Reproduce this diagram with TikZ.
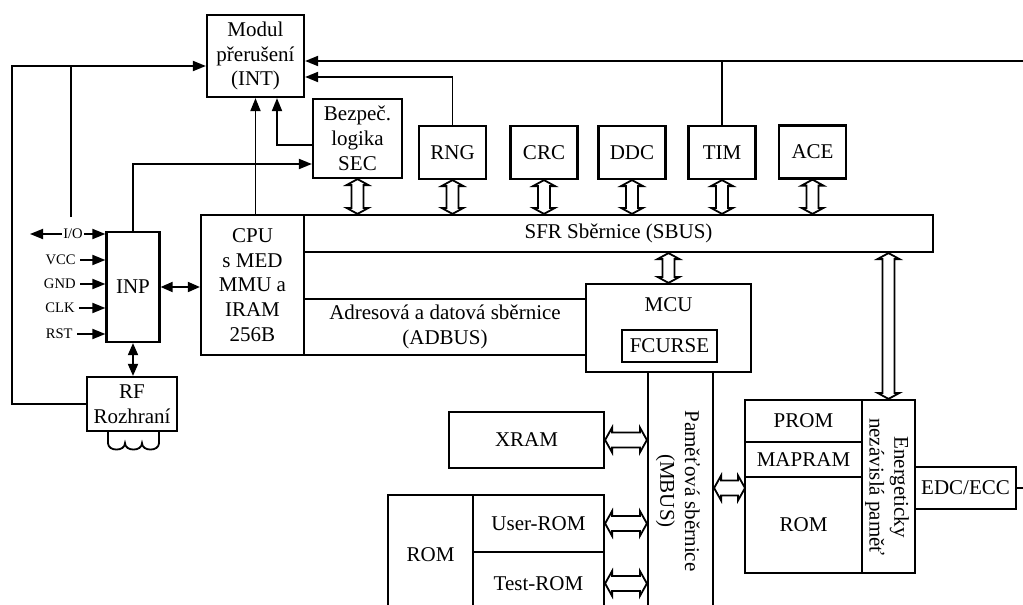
\documentclass[tikz,border=0pt]{standalone}
\usepackage{fontspec}
\setmainfont{Liberation Serif}
\usetikzlibrary{arrows.meta,calc}
\newcommand{\vdbl}[2]{\draw[dbl] let \p1=(#1), \p2=(#2) in
 (\x1,\y1) -- (\x1-5.5pt,\y1-3pt) -- (\x1-3pt,\y1-3pt) -- (\x1-3pt,\y2+3pt) -- (\x1-5.5pt,\y2+3pt) -- (\x1,\y2)
 -- (\x1+5.5pt,\y2+3pt) -- (\x1+3pt,\y2+3pt) -- (\x1+3pt,\y1-3pt) -- (\x1+5.5pt,\y1-3pt) -- cycle;}
\newcommand{\hdbl}[2]{\draw[dbl] let \p1=(#1), \p2=(#2) in
 (\x1,\y1) -- (\x1+3.5pt,\y1+6.25pt) -- (\x1+3.5pt,\y1+3.75pt) -- (\x2-3.5pt,\y1+3.75pt) -- (\x2-3.5pt,\y1+6.25pt) -- (\x2,\y1)
 -- (\x2-3.5pt,\y1-6.25pt) -- (\x2-3.5pt,\y1-3.75pt) -- (\x1+3.5pt,\y1-3.75pt) -- (\x1+3.5pt,\y1-6.25pt) -- cycle;}
\begin{document}
\begin{tikzpicture}[x=0.5pt,y=-0.5pt,
  box/.style={draw, line width=1.1pt, inner sep=0pt, align=center, font=\fontsize{10.5pt}{12.4pt}\selectfont},
  pbox/.style={box, minimum width=33.5pt, minimum height=26.5pt},
  lbl/.style={inner sep=0pt, align=center, font=\fontsize{10.5pt}{12.4pt}\selectfont},
  sig/.style={inner sep=0.5pt, font=\fontsize{7.3pt}{8pt}\selectfont},
  arr/.style={line width=0.9pt, -{Triangle[length=6.5pt,width=5pt]}},
  arrb/.style={line width=0.9pt, {Triangle[length=6pt,width=5pt]}-{Triangle[length=6pt,width=5pt]}},
  wire/.style={line width=0.9pt},
  thinwire/.style={line width=0.55pt},
  dbl/.style={line width=0.9pt, fill=white, line join=miter}
]
\useasboundingbox (0,0) rectangle (1023,605);
\clip (0,0) rectangle (1023,605);

% boxes
\node[box, minimum width=48.5pt, minimum height=41pt] (int) at (255.5,56) {Modul\\přerušení\\(INT)};
\node[box, minimum width=44.5pt, minimum height=39.5pt] (sec) at (357.5,138.5) {Bezpeč.\\logika\\SEC};
\node[pbox] (rng) at (452.5,152.5) {RNG};
\node[pbox] (crc) at (544,152.5) {CRC};
\node[pbox] (ddc) at (632,152.5) {DDC};
\node[pbox] (tim) at (722,152.5) {TIM};
\node[pbox] (ace) at (812.5,152) {ACE};
\node[box, minimum width=314.5pt, minimum height=18.5pt] (sbus) at (618.5,233.5) {SFR Sběrnice (SBUS)};
\node[box, minimum width=51.5pt, minimum height=70pt] (cpu) at (252.5,285) {CPU\\s MED\\MMU a\\IRAM\\256B};
\node[box, minimum width=141pt, minimum height=28pt] (adbus) at (445,327) {Adresová a datová sběrnice\\(ADBUS)};
\node[box, minimum width=82.5pt, minimum height=44pt] (mcu) at (668.5,328) {};
\node[lbl] (mcul) at (668.5,305) {MCU};
\node[box, minimum width=47.5pt, minimum height=16pt] (fcurse) at (669.5,346) {FCURSE};
\node[box, minimum width=32.5pt, minimum height=121.5pt] (mbus) at (680.5,493.5) {};
\node[lbl, rotate=-90] (mbusl) at (678,491) {Paměťová sběrnice\\(MBUS)};
\node[box, minimum width=77.5pt, minimum height=28pt] (xram) at (526.5,440) {XRAM};
\node[box, minimum width=42.5pt, minimum height=60pt] (rom) at (430.5,555) {ROM};
\node[box, minimum width=65.5pt, minimum height=28.5pt] (urom) at (538.5,523.5) {User-ROM};
\node[box, minimum width=65.5pt, minimum height=31.5pt] (trom) at (538.5,583.5) {Test-ROM};
\node[box, minimum width=58.5pt, minimum height=21pt] (prom) at (803.5,421) {PROM};
\node[box, minimum width=58.5pt, minimum height=17.5pt] (mapram) at (803.5,459.5) {MAPRAM};
\node[box, minimum width=58.5pt, minimum height=48pt] (rom2) at (803.5,525) {ROM};
\node[box, minimum width=26.5pt, minimum height=86.5pt] (env) at (888.5,486.5) {};
\node[lbl, rotate=-90] (envl) at (887,487) {Energeticky\\nezávislá paměť};
\node[box, minimum width=50.5pt, minimum height=21pt] (edc) at (965.5,488) {EDC/ECC};
\node[box, minimum width=26.5pt, minimum height=55pt] (inp) at (133,287) {INP};
\node[box, minimum width=45pt, minimum height=27pt] (rf) at (132,404) {RF\\Rozhraní};

% signals
\node[sig] (io) at (73,234) {I/O};
\coordinate (iol) at (30,234);
\draw[arr] (io.west) -- (iol);
\draw[arr] (io.east) -- (io.east -| inp.west);
\node[sig, anchor=east] (vcc) at (77,260) {VCC};
\node[sig, anchor=east] (gnd) at (77,284) {GND};
\node[sig, anchor=east] (clk) at (76,308) {CLK};
\node[sig, anchor=east] (rst) at (74,334) {RST};
\foreach \nm in {vcc,gnd,clk,rst}{
  \draw[arr] ([xshift=1.5pt]\nm.east) -- (\nm.east -| inp.west);
}

% connectors
\coordinate (rt) at (1023,61);
\draw[arr] (rt) -- (rt -| int.east);
\draw[thinwire] (tim.north) -- (tim.north |- rt);
\coordinate (c77) at ([yshift=-10.5pt]int.east);
\draw[thinwire] (rng.north) -- (c77 -| rng.north);
\draw[arr] (c77 -| rng.north) -- (c77);
\coordinate (lft) at (12,66);
\draw[arr] (rf.west) -| (lft) -- (lft -| int.west);
\coordinate (lv) at (71,217);
\draw[thinwire] (lv) -- (lv |- lft);
\coordinate (c164) at ([yshift=-12.75pt]sec.west);
\draw[arr] (inp.north) |- (c164);
\coordinate (c145) at ([yshift=-3.25pt]sec.west);
\coordinate (c277) at ([xshift=10.75pt]int.south);
\draw[arr] (c145) -| (c277);
\draw[arr] (cpu.north -| int.south) -- (int.south);
\draw[arrb] (inp.east) -- (inp.east -| cpu.west);
\draw[arrb] (inp.south) -- (inp.south |- rf.north);
\coordinate (re) at (1023,488);
\draw[wire] (edc.east) -- (re);
% coil
\draw[wire] ([xshift=-12pt]rf.south) -- ++(0,11) to[out=-90,in=-90,looseness=1.3] ++(17,0)
  to[out=-90,in=-90,looseness=1.3] ++(17,0) to[out=-90,in=-90,looseness=1.3] ++(17,0) -- ++(0,-11);

% bus arrows
\vdbl{sec.south}{sec.south |- sbus.north}
\foreach \nm in {rng,crc,ddc,tim,ace}{
  \vdbl{\nm.south}{\nm.south |- sbus.north}
}
\vdbl{mcu.north |- sbus.south}{mcu.north}
\vdbl{env.north |- sbus.south}{env.north}
\hdbl{xram.east}{xram.east -| mbus.west}
\hdbl{urom.east}{urom.east -| mbus.west}
\hdbl{trom.east}{trom.east -| mbus.west}
\coordinate (mr) at (745,488);
\hdbl{mr -| mbus.east}{mr}
\end{tikzpicture}
\end{document}
